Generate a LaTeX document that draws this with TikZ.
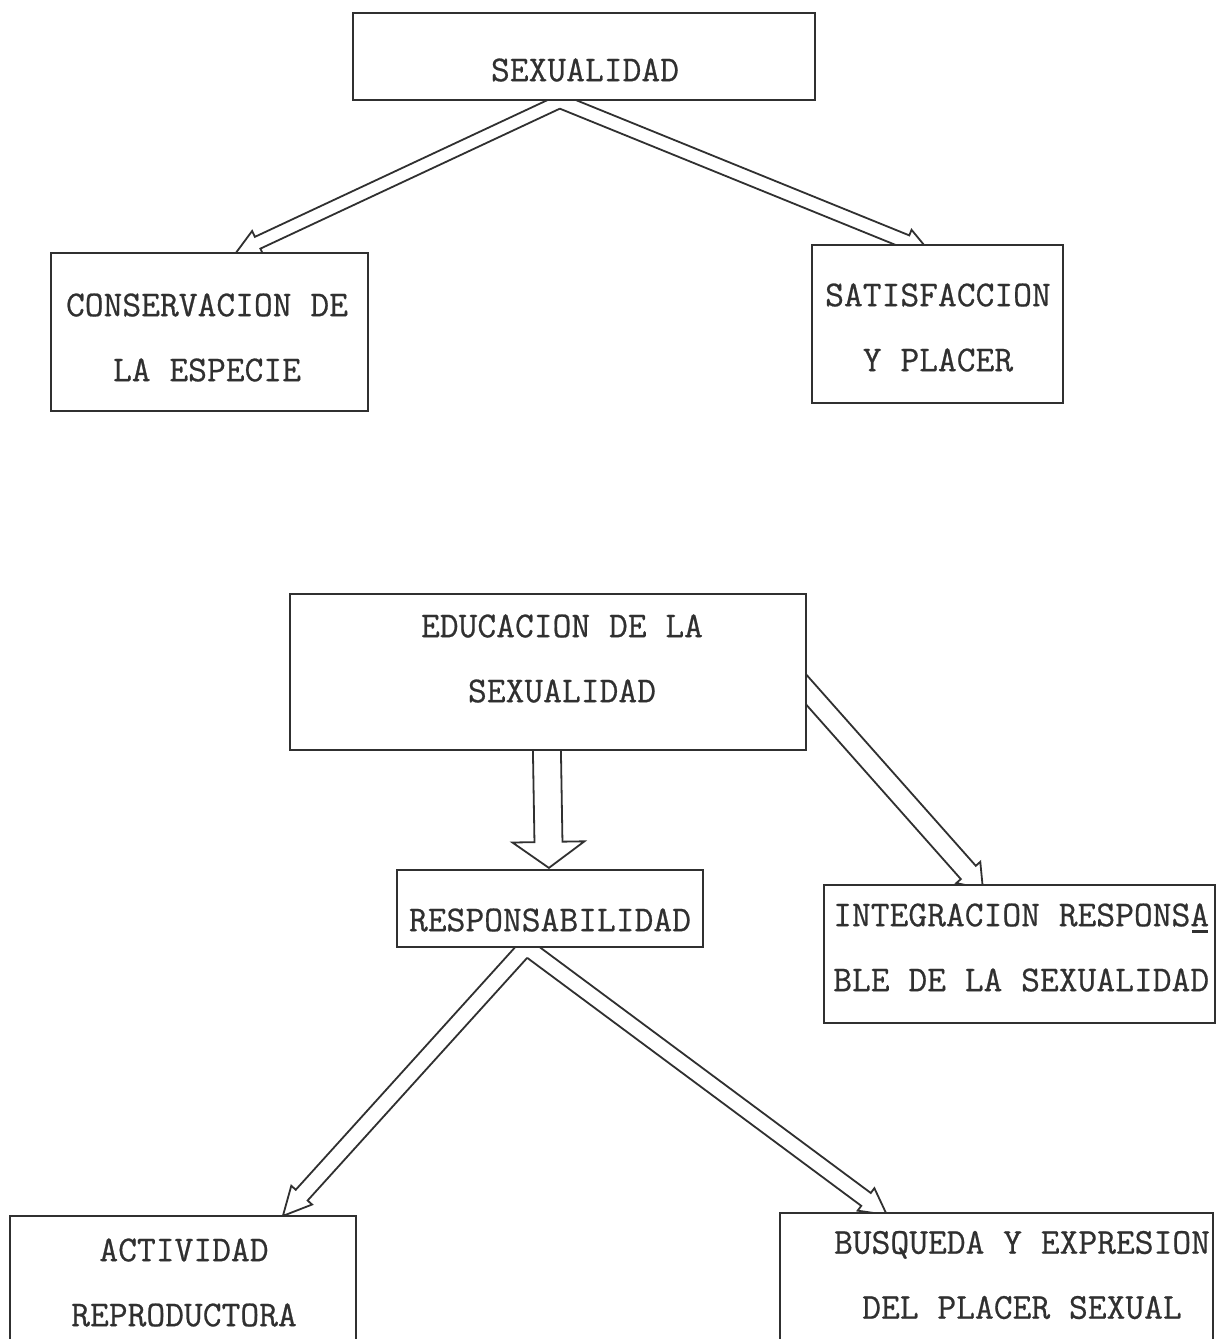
\documentclass[tikz,border=0pt]{standalone}
\usepackage{fontspec}
\setmonofont[FakeBold=0.6]{Latin Modern Mono}
\usetikzlibrary{calc,backgrounds}
\definecolor{ink}{HTML}{303030}
% #1 name, #2 start, #3 tip, #4 shaft half width, #5 head half width, #6 head length
\newcommand\mkarrow[6]{%
  \coordinate (#1H) at ($(#3)!#6!(#2)$);
  \coordinate (#1ap) at ($(#2)!#4!90:(#3)$);
  \coordinate (#1am) at ($(#2)!#4!-90:(#3)$);
  \coordinate (#1hp) at ($(#1H)!#4!90:(#3)$);
  \coordinate (#1hm) at ($(#1H)!#4!-90:(#3)$);
  \coordinate (#1bp) at ($(#1H)!#5!90:(#3)$);
  \coordinate (#1bm) at ($(#1H)!#5!-90:(#3)$);
}
\newcommand\ulA[1]{\rlap{\hspace{2pt}\rule[-7pt]{16pt}{3pt}}#1}
\begin{document}
\begin{tikzpicture}[x=1pt,y=-1pt,
  box/.style={draw=ink, line width=2.2pt, fill=white, rectangle, inner sep=0pt},
  txt/.style={text=ink, font=\ttfamily\fontsize{36.5}{65}\selectfont, inner sep=0pt, align=center},
  arr/.style={draw=ink, line width=1.8pt, line join=miter}]
\useasboundingbox (0,0) rectangle (1220,1339);
\begin{pgfonlayer}{background}
\fill[white] (0,0) rectangle (1220,1339);
\end{pgfonlayer}

% boxes
\node[box, minimum width=462pt, minimum height=87pt] (sex) at (584,56.5) {};
\node[box, minimum width=317pt, minimum height=158pt] (cons) at (209.5,332) {};
\node[box, minimum width=251pt, minimum height=158pt] (sat) at (937.5,324) {};
\node[box, minimum width=516pt, minimum height=156pt] (edu) at (548,672) {};
\node[box, minimum width=306pt, minimum height=77pt] (resp) at (550,908.5) {};
\node[box, minimum width=391pt, minimum height=138pt] (integ) at (1019.5,954) {};
\node[box, minimum width=346pt, minimum height=148pt] (act) at (183,1290) {};
\node[box, minimum width=433pt, minimum height=154pt] (busq) at (996.5,1290) {};

% texts
\node[txt] (sext) at (585,70) {SEXUALIDAD};
\node[txt] (const) at (207,337.5) {CONSERVACION DE\\LA ESPECIE};
\node[txt] (satt) at (938,327.5) {SATISFACCION\\Y PLACER};
\node[txt] (edut) at (562,658.5) {EDUCACION DE LA\\SEXUALIDAD};
\node[txt] (respt) at (550,920) {RESPONSABILIDAD};
\node[txt, align=left, anchor=west] (integt) at (833,947.5) {INTEGRACION RESPONS\ulA{A}\\BLE DE LA SEXUALIDAD};
\node[txt] (actt) at (184,1282.5) {ACTIVIDAD\\REPRODUCTORA};
\node[txt] (busqt) at (1022,1275) {BUSQUEDA Y EXPRESION\\DEL PLACER SEXUAL};

% arrow end points
\coordinate (sa1) at ($(sex.south west)+(213,-2)$);
\coordinate (ta1) at ($(cons.north west)+(186,1)$);
\coordinate (sa2) at ($(sex.south west)+(203,-2)$);
\coordinate (ta2) at ($(sat.north west)+(118,7)$);
\coordinate (sa3) at ($(edu.south west)+(258,-2)$);
\coordinate (ta3) at ($(resp.north west)+(153,-1)$);
\coordinate (sa4) at ($(edu.north east)+(-13,83)$);
\coordinate (ta4) at ($(integ.north west)+(160,5)$);
\coordinate (sa5) at ($(resp.south west)+(131,-2)$);
\coordinate (ta5) at ($(act.north west)+(274,1)$);
\coordinate (sa6) at ($(resp.south west)+(129,-2)$);
\coordinate (ta6) at ($(busq.north west)+(108,3)$);

\mkarrow{a1}{sa1}{ta1}{6.5pt}{13pt}{24pt}
\mkarrow{a2}{sa2}{ta2}{7pt}{13pt}{24pt}
\mkarrow{a3}{sa3}{ta3}{14pt}{36pt}{26pt}
\mkarrow{a4}{sa4}{ta4}{10pt}{16pt}{22pt}
\mkarrow{a5}{sa5}{ta5}{8pt}{14pt}{28pt}
\mkarrow{a6}{sa6}{ta6}{8pt}{14pt}{26pt}
\coordinate (x1) at (intersection of a1ap--a1hp and a2am--a2hm);
\coordinate (x2) at (intersection of a5ap--a5hp and a6am--a6hm);

\begin{pgfonlayer}{background}
\draw[arr] (a1am) -- (a1hm) -- (a1bm) -- (ta1) -- (a1bp) -- (a1hp) -- (x1);
\draw[arr] (a2ap) -- (a2hp) -- (a2bp) -- (ta2) -- (a2bm) -- (a2hm) -- (x1);
\draw[arr] (a3ap) -- (a3hp) -- (a3bp) -- (ta3) -- (a3bm) -- (a3hm) -- (a3am);
\draw[arr] (a4ap) -- (a4hp) -- (a4bp) -- (ta4) -- (a4bm) -- (a4hm) -- (a4am);
\draw[arr] (a5am) -- (a5hm) -- (a5bm) -- (ta5) -- (a5bp) -- (a5hp) -- (x2);
\draw[arr] (a6ap) -- (a6hp) -- (a6bp) -- (ta6) -- (a6bm) -- (a6hm) -- (x2);
\end{pgfonlayer}
\end{tikzpicture}
\end{document}
